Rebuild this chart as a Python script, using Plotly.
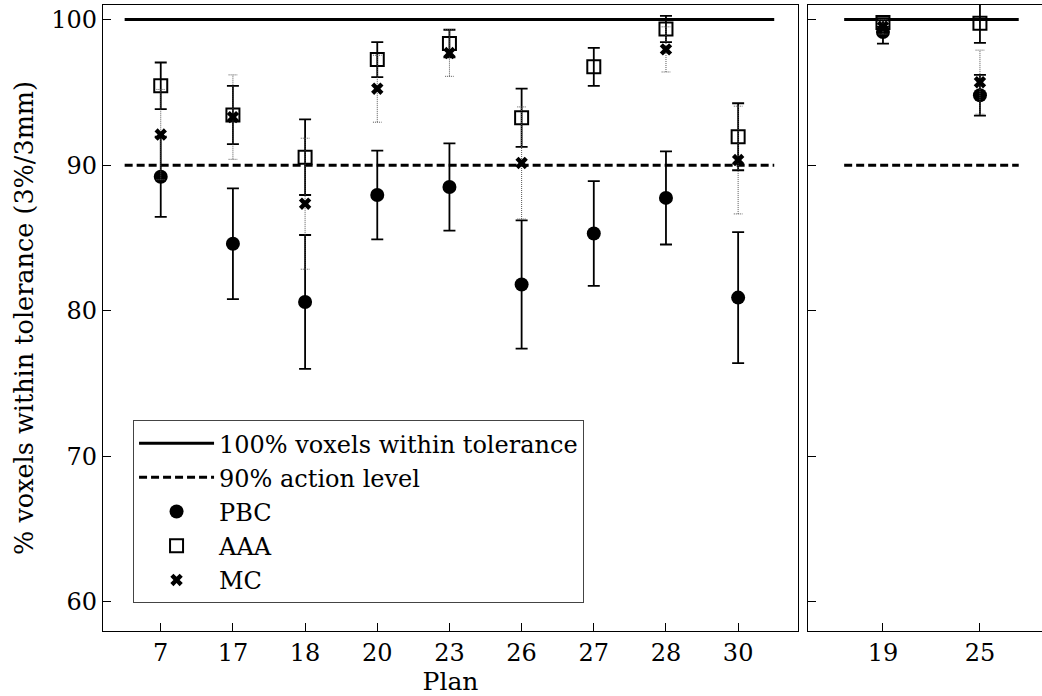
import plotly.graph_objects as go

# ---- data ----
plans_left = ["7", "17", "18", "20", "23", "26", "27", "28", "30"]
pbc_left = [89.2, 84.6, 80.6, 87.95, 88.5, 81.8, 85.3, 87.75, 80.9]
pbc_left_err = [2.75, 3.8, 4.6, 3.05, 3.0, 4.4, 3.6, 3.2, 4.5]
aaa_left = [95.45, 93.45, 90.55, 97.25, 98.35, 93.25, 96.75, 99.35, 91.95]
aaa_left_err = [1.6, 2.0, 2.6, 1.2, 0.95, 2.0, 1.3, 0.9, 2.3]
mc_left = [92.1, 93.3, 87.35, 95.25, 97.7, 90.15, None, 97.95, 90.35]
mc_left_err = [3.1, 2.9, 4.5, 2.3, 1.6, 3.85, None, 1.55, 3.7]

plans_right = ["19", "25"]
pbc_right = [99.15, 94.8]
pbc_right_err = [0.8, 1.4]
aaa_right = [99.8, 99.75]
aaa_right_err = [0.3, 1.35]
mc_right = [99.5, 95.7]
mc_right_err = [0.5, 2.2]

full_level = 100
action_level = 90

FONT = "DejaVu Serif, serif"
INK = "black"

fig = go.Figure()


def add_panel(plans, pbc, pbc_e, aaa, aaa_e, mc, mc_e, xa, ya, show, pad):
    xs = list(range(len(plans)))
    n = len(plans)
    fig.add_trace(go.Scatter(
        x=[-pad, n - 1 + pad], y=[full_level, full_level], mode="lines",
        line=dict(color=INK, width=3), name="100% voxels within tolerance",
        showlegend=show, xaxis=xa, yaxis=ya, hoverinfo="skip"))
    fig.add_trace(go.Scatter(
        x=[-pad, n - 1 + pad], y=[action_level, action_level], mode="lines",
        line=dict(color=INK, width=3, dash="8px,4px"), name="90% action level",
        showlegend=show, xaxis=xa, yaxis=ya, hoverinfo="skip"))
    fig.add_trace(go.Scatter(
        x=xs, y=pbc, mode="markers", name="PBC", showlegend=show,
        marker=dict(symbol="circle", size=14, color=INK),
        error_y=dict(type="data", array=pbc_e, color=INK, thickness=1.8, width=6),
        xaxis=xa, yaxis=ya))
    fig.add_trace(go.Scatter(
        x=xs, y=aaa, mode="markers", name="AAA", showlegend=show,
        marker=dict(symbol="square-open", size=13, color=INK, line=dict(width=2, color=INK)),
        error_y=dict(type="data", array=aaa_e, color=INK, thickness=1.8, width=6),
        xaxis=xa, yaxis=ya))
    # MC dotted error bars drawn as segments from the data
    ex, ey = [], []
    cap = 0.06 if n > 2 else 0.045
    for i, (v, e) in enumerate(zip(mc, mc_e)):
        if v is None:
            continue
        ex += [i, i, None, i - cap, i + cap, None, i - cap, i + cap, None]
        ey += [v - e, v + e, None, v - e, v - e, None, v + e, v + e, None]
    fig.add_trace(go.Scatter(
        x=ex, y=ey, mode="lines", line=dict(color="#555", width=1, dash="1px,1px"),
        showlegend=False, xaxis=xa, yaxis=ya, hoverinfo="skip"))
    mx = [i for i, v in enumerate(mc) if v is not None]
    my = [v for v in mc if v is not None]
    fig.add_trace(go.Scatter(
        x=mx, y=my, mode="markers", name="MC", showlegend=show,
        marker=dict(symbol="x", size=11, color=INK, line=dict(width=0)),
        xaxis=xa, yaxis=ya))


add_panel(plans_left, pbc_left, pbc_left_err, aaa_left, aaa_left_err,
          mc_left, mc_left_err, "x", "y", True, 0.5)
add_panel(plans_right, pbc_right, pbc_right_err, aaa_right, aaa_right_err,
          mc_right, mc_right_err, "x2", "y2", False, 0.4)

axis_common = dict(showgrid=False, zeroline=False, ticks="inside", ticklen=8,
                   tickcolor=INK, tickfont=dict(family=FONT, size=24, color=INK),
                   showline=True, linecolor=INK, linewidth=1.2)

fig.update_layout(
    width=1042, height=696,
    margin=dict(l=103, r=0, t=5, b=65),
    paper_bgcolor="white", plot_bgcolor="white",
    font=dict(family=FONT, size=24, color=INK),
    xaxis=dict(domain=[0, 0.7402], range=[-0.8, 8.83],
               tickvals=list(range(len(plans_left))), ticktext=plans_left,
               title=dict(text="Plan", font=dict(family=FONT, size=25), standoff=6),
               mirror=True, **axis_common),
    yaxis=dict(range=[58, 101], tickvals=[60, 70, 80, 90, 100],
               title=dict(text="% voxels within tolerance (3%/3mm)",
                          font=dict(family=FONT, size=25.5), standoff=10),
               mirror=True, **axis_common),
    xaxis2=dict(domain=[0.7508, 1.0], range=[-0.773, 1.64],
                tickvals=list(range(len(plans_right))), ticktext=plans_right,
                anchor="y2", mirror=True, **axis_common),
    yaxis2=dict(range=[58, 101], tickvals=[60, 70, 80, 90, 100], showticklabels=False,
                anchor="x2", **axis_common),
    legend=dict(x=0.032, y=0.337, xanchor="left", yanchor="top",
                bordercolor="#444", borderwidth=1, bgcolor="white",
                font=dict(family=FONT, size=24), tracegroupgap=0, itemwidth=75),
    showlegend=True,
)

fig.write_html("out.html")
